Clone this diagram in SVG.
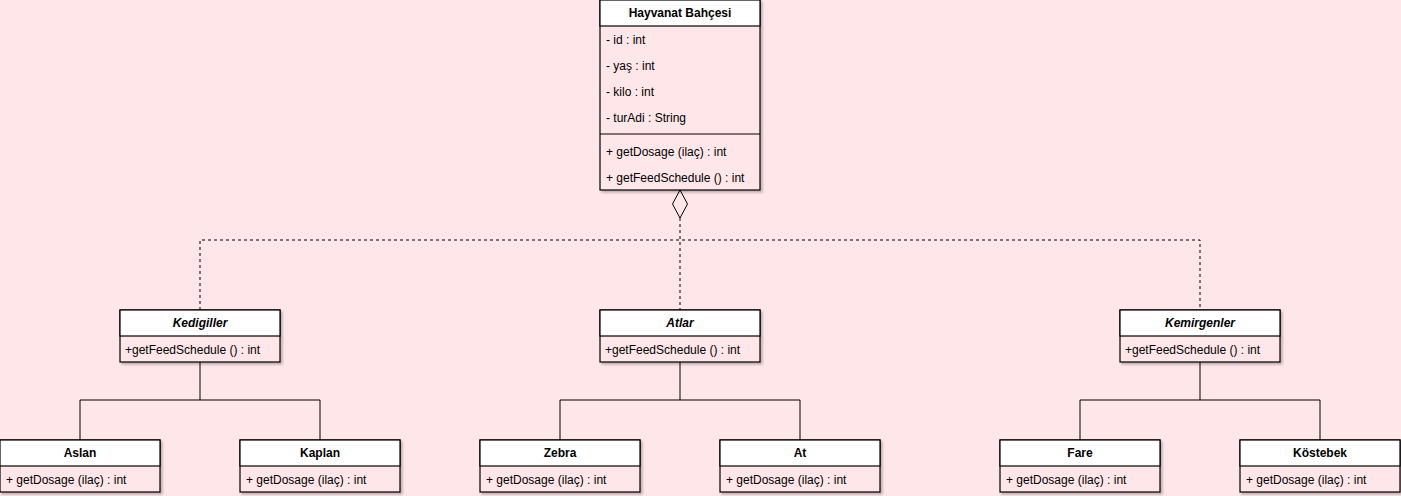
<svg xmlns="http://www.w3.org/2000/svg" width="1401" height="496" viewBox="0 0 1401 496">
<defs>
<filter id="sh" x="-10%" y="-10%" width="125%" height="130%">
<feDropShadow dx="2" dy="2" stdDeviation="0.8" flood-color="#000" flood-opacity="0.25"/>
</filter>
</defs>
<style>
.box{fill:#FFE6E8;stroke:#000;stroke-width:1.2}
.hdr{fill:#FFFFFF;stroke:#000;stroke-width:1.2}
.sep{stroke:#000;stroke-width:1.2}
.t{font-family:"Liberation Sans",Arial,sans-serif;font-size:12px;fill:#000}
.h{font-family:"Liberation Sans",Arial,sans-serif;font-size:12px;font-weight:bold;fill:#000;text-anchor:middle}
.hi{font-style:italic}
.c{fill:none;stroke:#000;stroke-width:1}
.d{fill:none;stroke:#000;stroke-width:1;stroke-dasharray:3 3}
</style>
<rect x="0" y="0" width="1401" height="496" fill="#FFE6E8"/>

<g id="connectors">
<path class="d" d="M680 218 V310"/>
<path class="d" d="M200 310 V240 H1200 V310"/>
<path class="c" d="M672.5 204 L680 190 L687.5 204 L680 218 Z" fill="#FFE6E8"/>
<path class="c" d="M200 362 V400 M80 440 V400 H320 V440"/>
<path class="c" d="M680 362 V400 M560 440 V400 H800 V440"/>
<path class="c" d="M1200 362 V400 M1080 440 V400 H1320 V440"/>
</g>

<g id="hayvanat">
<rect class="box" x="600" y="0" width="160" height="190" filter="url(#sh)"/>
<rect class="hdr" x="600" y="0" width="160" height="26"/>
<text class="h" x="680" y="17">Hayvanat Bahçesi</text>
<text class="t" x="606" y="44">- id : int</text>
<text class="t" x="606" y="70">- yaş : int</text>
<text class="t" x="606" y="96">- kilo : int</text>
<text class="t" x="606" y="122">- turAdi : String</text>
<line class="sep" x1="600" y1="134" x2="760" y2="134"/>
<text class="t" x="606" y="156">+ getDosage (ilaç) : int</text>
<text class="t" x="606" y="182">+ getFeedSchedule () : int</text>
</g>

<g id="kedigiller">
<rect class="box" x="120" y="310" width="160" height="52" filter="url(#sh)"/>
<rect class="hdr" x="120" y="310" width="160" height="26"/>
<text class="h hi" x="200" y="327">Kedigiller</text>
<text class="t" x="125" y="354">+getFeedSchedule () : int</text>
</g>

<g id="atlar">
<rect class="box" x="600" y="310" width="160" height="52" filter="url(#sh)"/>
<rect class="hdr" x="600" y="310" width="160" height="26"/>
<text class="h hi" x="680" y="327">Atlar</text>
<text class="t" x="605" y="354">+getFeedSchedule () : int</text>
</g>

<g id="kemirgenler">
<rect class="box" x="1120" y="310" width="160" height="52" filter="url(#sh)"/>
<rect class="hdr" x="1120" y="310" width="160" height="26"/>
<text class="h hi" x="1200" y="327">Kemirgenler</text>
<text class="t" x="1125" y="354">+getFeedSchedule () : int</text>
</g>

<g id="aslan">
<rect class="box" x="0" y="440" width="160" height="52" filter="url(#sh)"/>
<rect class="hdr" x="0" y="440" width="160" height="26"/>
<text class="h" x="80" y="457">Aslan</text>
<text class="t" x="6" y="484">+ getDosage (ilaç) : int</text>
</g>

<g id="kaplan">
<rect class="box" x="240" y="440" width="160" height="52" filter="url(#sh)"/>
<rect class="hdr" x="240" y="440" width="160" height="26"/>
<text class="h" x="320" y="457">Kaplan</text>
<text class="t" x="246" y="484">+ getDosage (ilaç) : int</text>
</g>

<g id="zebra">
<rect class="box" x="480" y="440" width="160" height="52" filter="url(#sh)"/>
<rect class="hdr" x="480" y="440" width="160" height="26"/>
<text class="h" x="560" y="457">Zebra</text>
<text class="t" x="486" y="484">+ getDosage (ilaç) : int</text>
</g>

<g id="at">
<rect class="box" x="720" y="440" width="160" height="52" filter="url(#sh)"/>
<rect class="hdr" x="720" y="440" width="160" height="26"/>
<text class="h" x="800" y="457">At</text>
<text class="t" x="726" y="484">+ getDosage (ilaç) : int</text>
</g>

<g id="fare">
<rect class="box" x="1000" y="440" width="160" height="52" filter="url(#sh)"/>
<rect class="hdr" x="1000" y="440" width="160" height="26"/>
<text class="h" x="1080" y="457">Fare</text>
<text class="t" x="1006" y="484">+ getDosage (ilaç) : int</text>
</g>

<g id="kostebek">
<rect class="box" x="1240" y="440" width="160" height="52" filter="url(#sh)"/>
<rect class="hdr" x="1240" y="440" width="160" height="26"/>
<text class="h" x="1320" y="457">Köstebek</text>
<text class="t" x="1246" y="484">+ getDosage (ilaç) : int</text>
</g>
</svg>
